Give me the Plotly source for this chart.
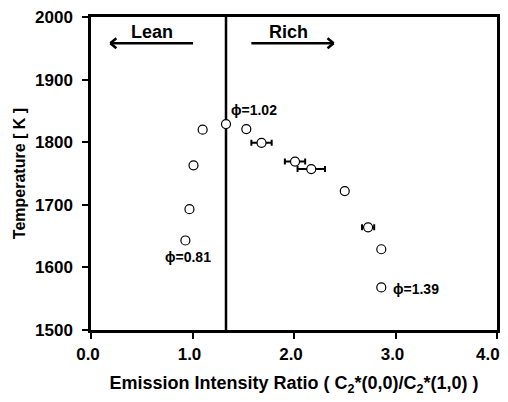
import plotly.graph_objects as go

# Data
ratio = [0.93, 0.97, 1.01, 1.10, 1.33, 1.53, 1.68, 2.01, 2.17, 2.50, 2.73, 2.86, 2.86]
temperature = [1643, 1693, 1763, 1820, 1829, 1821, 1799, 1769, 1757, 1722, 1664, 1629, 1568]
ratio_err = [0, 0, 0, 0, 0, 0.03, 0.10, 0.10, 0.135, 0, 0.06, 0, 0]

stoich_ratio = 1.33
phi_labels = ["ϕ=1.02", "ϕ=0.81", "ϕ=1.39"]
phi_x = [1.36, 0.71, 2.96]
phi_y = [1851, 1617, 1566]

x_ticks = [0, 1, 2, 3, 4]
x_ticktext = ["0.0", "1.0", "2.0", "3.0", "4.0"]
y_ticks = [1500, 1600, 1700, 1800, 1900, 2000]

FONT = "Liberation Sans, Arial, sans-serif"

fig = go.Figure()
fig.add_trace(go.Scatter(
    x=ratio, y=temperature, mode="markers",
    marker=dict(size=9, color="white", line=dict(color="black", width=1.2)),
    error_x=dict(type="data", array=ratio_err, color="black", thickness=2, width=3),
    showlegend=False,
))

# stoichiometric divider
fig.add_shape(type="line", x0=stoich_ratio, x1=stoich_ratio, y0=1500, y1=2000,
              line=dict(color="black", width=2.5), layer="below")

# Lean / Rich arrows
arrow_y = 1958
lean = (1.005, 0.19)
rich = (1.58, 2.39)
adx, ady = 0.06, 8
for x0, x1 in [lean, rich]:
    fig.add_shape(type="line", x0=x0, x1=x1, y0=arrow_y, y1=arrow_y, line=dict(color="black", width=2.5))
    s = 1 if x1 > x0 else -1
    fig.add_shape(type="line", x0=x1 - s * adx, x1=x1, y0=arrow_y + ady, y1=arrow_y, line=dict(color="black", width=2.5))
    fig.add_shape(type="line", x0=x1 - s * adx, x1=x1, y0=arrow_y - ady, y1=arrow_y, line=dict(color="black", width=2.5))

fig.add_annotation(x=0.6, y=1976, text="<b>Lean</b>", showarrow=False, font=dict(size=18, color="black", family=FONT))
fig.add_annotation(x=1.95, y=1976, text="<b>Rich</b>", showarrow=False, font=dict(size=18, color="black", family=FONT))

for t, xx, yy in zip(phi_labels, phi_x, phi_y):
    fig.add_annotation(x=xx, y=yy, text="<b>" + t + "</b>", showarrow=False, xanchor="left",
                       font=dict(size=14, color="black", family=FONT))

axis_common = dict(showline=True, linecolor="black", linewidth=2.5, mirror=True,
                   ticks="outside", ticklen=6, tickwidth=2, tickcolor="black",
                   showgrid=False, zeroline=False, automargin=False,
                   ticklabeloverflow="allow",
                   tickfont=dict(size=17, color="black", family=FONT))

# the last x tick label sits at the right edge; it is drawn as an annotation pulled
# slightly inward (as in the reference) so it is not clipped
shown_ticktext = ["<b>%s</b>" % t for t in x_ticktext[:-1]] + [""]
fig.add_annotation(x=x_ticks[-1], xref="x", y=0, yref="paper", yanchor="middle",
                   xshift=-9, yshift=-24, showarrow=False,
                   text="<b>%s</b>" % x_ticktext[-1],
                   font=dict(size=17, color="black", family=FONT))

fig.update_xaxes(range=[0, 4], tickvals=x_ticks, ticktext=shown_ticktext,
                 title=dict(text="<b>Emission Intensity Ratio ( C<sub>2</sub>*(0,0)/C<sub>2</sub>*(1,0) )</b>",
                            font=dict(size=18, color="black", family=FONT), standoff=14),
                 ticklabelstandoff=1, ticklabelshift=-3, **axis_common)
fig.update_yaxes(range=[1500, 2000], tickvals=y_ticks, ticktext=["<b>%d</b>" % v for v in y_ticks],
                 title=dict(text="<b>Temperature [ K ]</b>",
                            font=dict(size=16, color="black", family=FONT), standoff=6),
                 ticklabelstandoff=6, **axis_common)

# page body has an 8px margin, so the figure is 8px smaller than the window
fig.update_layout(width=500, height=394, margin=dict(l=83, r=11, t=9, b=72),
                  plot_bgcolor="white", paper_bgcolor="white")

fig.write_html("out.html")
